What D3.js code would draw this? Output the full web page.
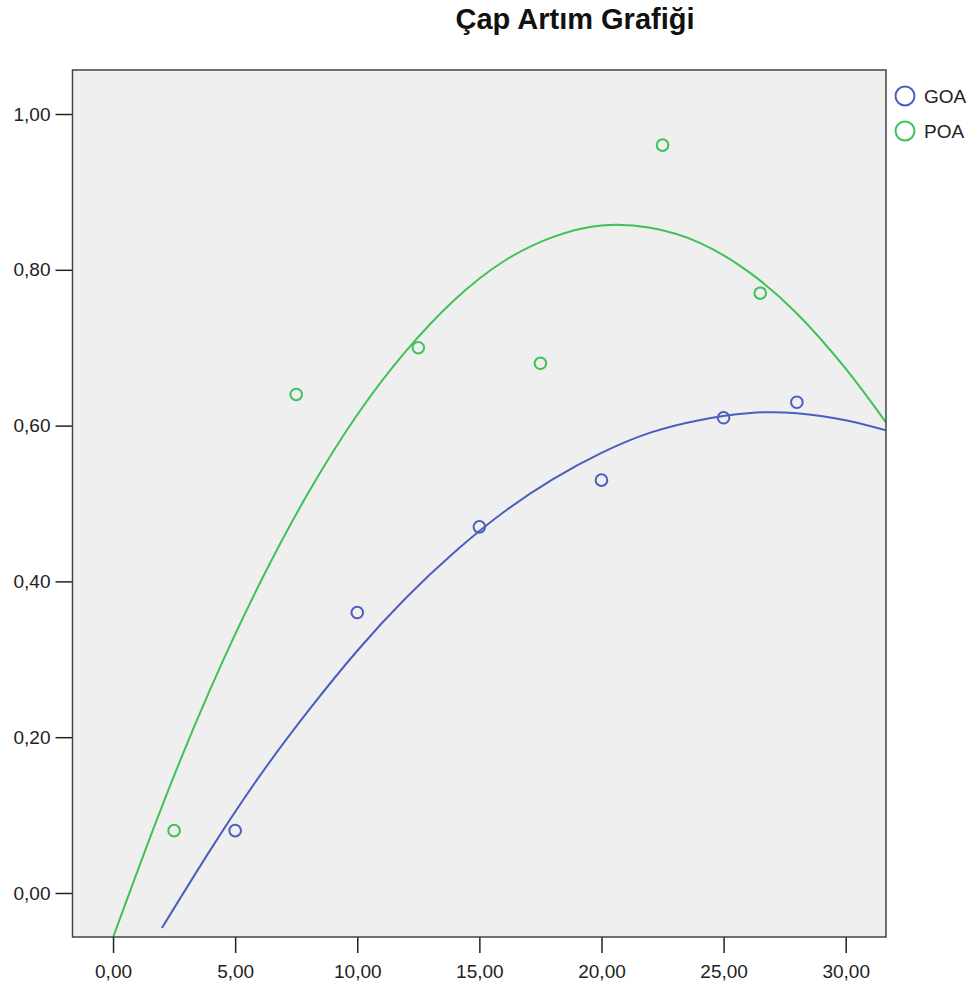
<!DOCTYPE html>
<html>
<head>
<meta charset="utf-8">
<script src="https://cdn.jsdelivr.net/npm/d3@7"></script>
<style>
  body { margin: 0; background: #fff; }
  text { font-family: "Liberation Sans", Arial, sans-serif; }
</style>
</head>
<body>
<svg id="chart"></svg>
<script>
// scatter points
var goaX = [5, 10, 15, 20, 25, 28];
var goaY = [0.08, 0.36, 0.47, 0.53, 0.61, 0.63];
var poaX = [2.5, 7.5, 12.5, 17.5, 22.5, 26.5];
var poaY = [0.08, 0.64, 0.70, 0.68, 0.96, 0.77];

// fit lines
var goaFitX = [2, 4, 6, 8, 10, 12, 14, 16, 18, 20, 22, 24, 26, 28, 30, 31.65];
var goaFitY = [-0.045, 0.056, 0.150, 0.234, 0.311, 0.379, 0.438, 0.489, 0.531, 0.565, 0.591, 0.607, 0.616, 0.616, 0.607, 0.594];
var poaFitX = [0, 2, 4, 6, 8, 10, 12, 14, 16, 18, 20, 22, 24, 26, 28, 30, 31.65];
var poaFitY = [-0.057, 0.111, 0.263, 0.397, 0.514, 0.614, 0.696, 0.762, 0.811, 0.842, 0.857, 0.854, 0.835, 0.798, 0.744, 0.673, 0.604];

var xTicks = [0, 5, 10, 15, 20, 25, 30];
var yTicks = [0, 0.2, 0.4, 0.6, 0.8, 1.0];
var seriesNames = ["GOA", "POA"];
var colors = { GOA: "#4a5ec0", POA: "#3ec155" };

var W = 977, H = 994;
var margin = { top: 70, right: 91, bottom: 57, left: 72.5 },
  width = W - margin.left - margin.right,
  height = H - margin.top - margin.bottom;

var svg = d3.select("#chart")
  .attr("width", W)
  .attr("height", H);

// title
svg.append("text")
  .attr("x", 575)
  .attr("y", 29)
  .attr("text-anchor", "middle")
  .style("font-size", "29px")
  .style("font-weight", "bold")
  .attr("fill", "#111")
  .text("Çap Artım Grafiği");

var g = svg.append("g")
  .attr("transform", "translate(" + margin.left + "," + margin.top + ")");

var x = d3.scaleLinear().domain([-1.66, 31.65]).range([0, width]);
var y = d3.scaleLinear().domain([-0.0565, 1.0565]).range([height, 0]);

var fmt = function (v) { return d3.format(".2f")(v).replace(".", ","); };

// plot background
g.append("rect")
  .attr("width", width)
  .attr("height", height)
  .attr("fill", "#efefef");

g.append("clipPath").attr("id", "clip")
  .append("rect").attr("width", width).attr("height", height);

// axes
var xAxis = g.append("g")
  .attr("transform", "translate(0," + height + ")")
  .call(d3.axisBottom(x).tickValues(xTicks).tickFormat(fmt).tickSize(16).tickSizeOuter(0));
var yAxis = g.append("g")
  .call(d3.axisLeft(y).tickValues(yTicks).tickFormat(fmt).tickSize(17).tickSizeOuter(0));

[xAxis, yAxis].forEach(function (a) {
  a.select(".domain").remove();
  a.selectAll("line").attr("stroke", "#222").attr("stroke-width", 1.5);
  a.selectAll("text")
    .style("font-size", "19px")
    .attr("fill", "#222");
});
xAxis.selectAll("text").attr("y", 41).attr("dy", 0);
yAxis.selectAll("text").attr("x", -22);

// fit curves
var line = d3.line()
  .x(function (d) { return x(d[0]); })
  .y(function (d) { return y(d[1]); })
  .curve(d3.curveNatural);

var fits = [
  { name: "GOA", xs: goaFitX, ys: goaFitY },
  { name: "POA", xs: poaFitX, ys: poaFitY }
];
fits.forEach(function (f) {
  g.append("path")
    .datum(f.xs.map(function (v, i) { return [v, f.ys[i]]; }))
    .attr("clip-path", "url(#clip)")
    .attr("fill", "none")
    .attr("stroke", colors[f.name])
    .attr("stroke-width", 2)
    .attr("d", line);
});

// points
var pts = [
  { name: "GOA", xs: goaX, ys: goaY },
  { name: "POA", xs: poaX, ys: poaY }
];
pts.forEach(function (p) {
  g.selectAll(".pt-" + p.name)
    .data(p.xs.map(function (v, i) { return [v, p.ys[i]]; }))
    .enter()
    .append("circle")
    .attr("class", "pt-" + p.name)
    .attr("cx", function (d) { return x(d[0]); })
    .attr("cy", function (d) { return y(d[1]); })
    .attr("r", 5.8)
    .attr("fill", "none")
    .attr("stroke", colors[p.name])
    .attr("stroke-width", 2);
});

// frame
g.append("rect")
  .attr("width", width)
  .attr("height", height)
  .attr("fill", "none")
  .attr("stroke", "#444")
  .attr("stroke-width", 1.5);

// legend
var legend = svg.append("g");
seriesNames.forEach(function (name, i) {
  var ly = 96 + i * 35;
  legend.append("circle")
    .attr("cx", 905)
    .attr("cy", ly)
    .attr("r", 9.5)
    .attr("fill", "none")
    .attr("stroke", colors[name])
    .attr("stroke-width", 2);
  legend.append("text")
    .attr("x", 924)
    .attr("y", ly)
    .attr("dy", "0.36em")
    .style("font-size", "19px")
    .attr("fill", "#222")
    .text(name);
});
</script>
</body>
</html>
